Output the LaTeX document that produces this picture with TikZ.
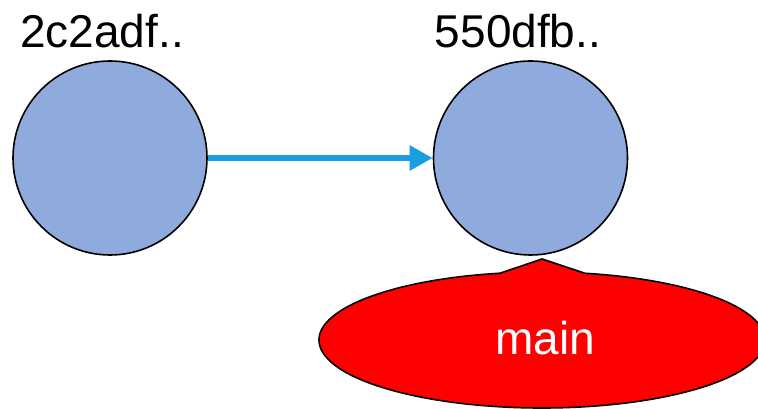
\documentclass[tikz,border=0pt]{standalone}
\usepackage{fontspec}
\setmainfont{Liberation Sans}
\usetikzlibrary{arrows.meta}
\definecolor{commitblue}{HTML}{8FAADC}
\definecolor{arrowblue}{HTML}{1B9DE2}
\begin{document}
\begin{tikzpicture}[x=1pt,y=1pt,
    commit/.style={circle,draw=black,line width=1.6,fill=commitblue,minimum size=194,inner sep=0},
    hashlabel/.style={anchor=base,font=\fontsize{46}{55}\selectfont},
    parent/.style={draw=arrowblue,line width=6,-{Triangle[length=23,width=24]}}]
    \useasboundingbox (0,0) rectangle (758,409);

    % Draw the two commits
    \node[commit] (c1) at (110,251) {};
    \node[commit] (c2) at (530.5,251) {};
    \node[hashlabel] (h1) at (102,361) {2c2adf..};
    \node[hashlabel] (h2) at (518,361) {550dfb..};

    % Draw the arrow between them
    \draw[parent] (c1) -- (c2);

    % Draw the branch callout
    \coordinate (tip) at (542,150);
    \draw[fill=red,line width=1.6,line join=miter]
        ([shift={(542,69)}]100.85:223 and 68)
        arc[start angle=100.85,end angle=438.88,x radius=223,y radius=68]
        -- (tip) -- cycle;
    \node[anchor=base,text=white,font=\fontsize{46}{55}\selectfont] (br) at (545,54) {main};
\end{tikzpicture}
\end{document}
